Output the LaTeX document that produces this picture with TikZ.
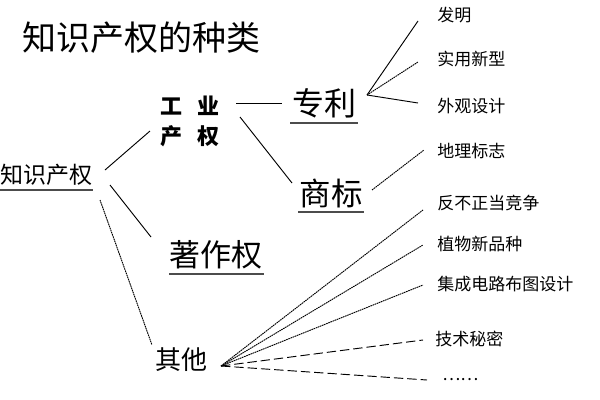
\documentclass[tikz,border=0pt]{standalone}
\usepackage{fontspec}
\newfontfamily\cjk{Noto Sans CJK SC}
\newcommand{\fs}[1]{\fontsize{#1}{#1}\selectfont}
\begin{document}
\begin{tikzpicture}[x=0.75pt,y=-0.75pt,
  every node/.style={inner sep=0pt, font=\cjk},
  lbl/.style={anchor=west, font=\cjk\fs{12.75}},
  ln/.style={line width=0.7pt},
  dotln/.style={line width=0.7pt, dash pattern=on 1.2pt off 0.5pt},
  dashln/.style={line width=0.7pt, dash pattern=on 7pt off 3pt},
  ul/.style={line width=0.8pt, black!70}]
\useasboundingbox (0,0) rectangle (600,400);

% title
\node (title) at (141,38) {\fs{25.5}知识产权的种类};

% main nodes
\node (zscq) at (47,175) {\fs{17.25}知识产权};
\node[align=center, font=\cjk\bfseries\fs{16.5}] (gy) at (190,121)
  {工\hspace{12pt}业\\[6pt]产\hspace{12pt}权};
\node (zl) at (324,103) {\fs{24}专利};
\node (sb) at (331,193) {\fs{23.6}商标};
\node (zzq) at (216,255) {\fs{23.25}著作权};
\node (qt) at (181,360) {\fs{19.5}其他};

% underlines
\draw[ul] (0,190) -- (93,190);
\draw[ul] (290,123) -- (358,123);
\draw[ul] (298,212) -- (364,212);
\draw[ul] (169,274) -- (264,274);

% leaf labels
\node[lbl] (fm) at (437,15) {发明};
\node[lbl] (syxx) at (437,59) {实用新型};
\node[lbl] (wgsj) at (437,106) {外观设计};
\node[lbl] (dlbz) at (437,151) {地理标志};
\node[lbl] (fbz) at (437,203) {反不正当竞争};
\node[lbl] (zwxpz) at (437,244) {植物新品种};
\node[lbl] (jcdl) at (437,284) {集成电路布图设计};
\node[lbl] (jsmm) at (435,339) {技术秘密};
\node[lbl] (etc) at (442,380) {……};

% connector endpoints
\coordinate (a1) at (105,170); \coordinate (a2) at (150,131);
\coordinate (b1) at (110,185); \coordinate (b2) at (151,237);
\coordinate (c1) at (100,200); \coordinate (c2) at (152,345);
\coordinate (d1) at (236,103); \coordinate (d2) at (282,103);
\coordinate (e1) at (240,117); \coordinate (e2) at (292,183);
\coordinate (zo) at (367,95);
\coordinate (f1) at (418,21); \coordinate (f2) at (418,62); \coordinate (f3) at (418,103);
\coordinate (so) at (372,190); \coordinate (s1) at (424,150);
\coordinate (qo) at (221,366);
\coordinate (q1) at (423,210); \coordinate (q2) at (423,245);
\coordinate (q3) at (423,285); \coordinate (q4) at (423,340); \coordinate (q5) at (427,380);

\draw[ln] (a1) -- (a2);
\draw[ln] (b1) -- (b2);
\draw[dotln] (c1) -- (c2);
\draw[ln] (d1) -- (d2);
\draw[ln] (e1) -- (e2);
\draw[ln] (zo) -- (f1);
\draw[dotln] (zo) -- (f2);
\draw[ln] (zo) -- (f3);
\draw[dotln] (so) -- (s1);
\draw[dotln] (qo) -- (q1);
\draw[dotln] (qo) -- (q2);
\draw[dotln] (qo) -- (q3);
\draw[dashln] (qo) -- (q4);
\draw[dashln] (qo) -- (q5);
\end{tikzpicture}
\end{document}
